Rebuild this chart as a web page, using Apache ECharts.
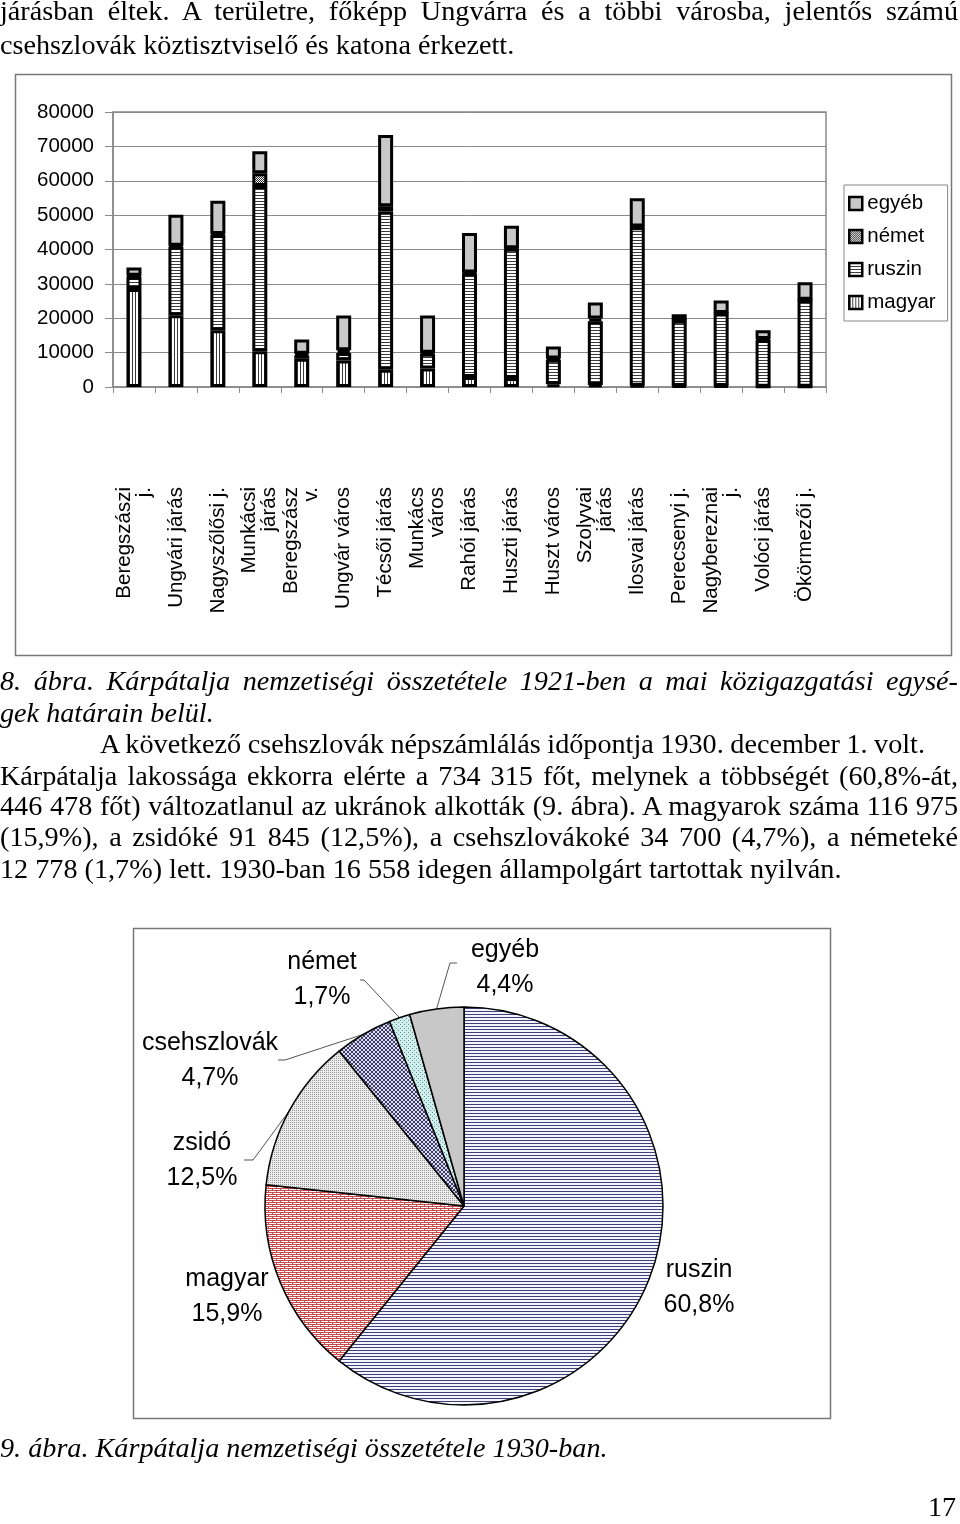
<!DOCTYPE html>
<html><head><meta charset="utf-8">
<script src="https://cdn.jsdelivr.net/npm/echarts@6/dist/echarts.min.js"></script>
<style>
html,body{margin:0;padding:0;background:#fff;}
#page{position:relative;width:960px;height:1524px;overflow:hidden;background:#fff;}
#chart{position:absolute;left:0;top:0;width:960px;height:1524px;}
.t{position:absolute;font-family:'Liberation Serif','Times New Roman',serif;font-size:28.2px;line-height:32px;white-space:nowrap;color:#000;z-index:2;}
.i{font-style:italic;}
</style></head><body>
<div id="page"><div id="chart"></div></div>
<script>
// ---- Figure 8 (1921) data ----
const categories = ['Beregszászi\nj.', 'Ungvári járás', 'Nagyszőlősi j.', 'Munkácsi\njárás', 'Beregszász\nv.', 'Ungvár város', 'Técsői járás', 'Munkács\nváros', 'Rahói járás', 'Huszti járás', 'Huszt város', 'Szolyvai\njárás', 'Ilosvai járás', 'Perecsenyi j.', 'Nagybereznai\nj.', 'Volóci járás', 'Ökörmezői j.'];
const magyar = [28500, 20900, 16500, 10400, 8200, 7700, 5000, 5400, 2900, 2600, 800, 600, 400, 300, 300, 100, 100];
const ruszin = [3600, 19900, 27700, 48100, 1000, 2200, 46000, 4300, 30100, 37600, 7100, 18500, 46100, 19000, 21100, 13600, 25200];
const nemet  = [300, 300, 300, 3700, 500, 800, 1600, 300, 300, 200, 400, 800, 200, 100, 100, 300, 100];
const egyeb  = [2400, 9000, 9700, 6400, 4100, 10100, 20700, 10800, 11500, 6500, 3500, 4700, 8200, 1800, 3700, 2500, 5100];
const yMin = 0, yMax = 80000, yStep = 10000;
const legendOrder = ['egyéb', 'német', 'ruszin', 'magyar'];

// ---- Figure 9 (1930) data ----
const pieNames  = ['ruszin', 'magyar', 'zsidó', 'csehszlovák', 'német', 'egyéb'];
const pieValues = [60.8, 15.9, 12.5, 4.7, 1.7, 4.4];

// ---- page text ----
const textLines = [
  {t:'járásban éltek. A területre, főképp Ungvárra és a többi városba, jelentős számú', x:0, w:958, y:12},
  {t:'csehszlovák köztisztviselő és katona érkezett.', x:0, y:46},
  {t:'8. ábra. Kárpátalja nemzetiségi összetétele 1921-ben a mai közigazgatási egysé-', x:0, w:958, y:682, i:true},
  {t:'gek határain belül.', x:0, y:714, i:true},
  {t:'A következő csehszlovák népszámlálás időpontja 1930. december 1. volt.', x:100, w:825, y:745},
  {t:'Kárpátalja lakossága ekkorra elérte a 734 315 főt, melynek a többségét (60,8%-át,', x:0, w:958, y:777},
  {t:'446 478 főt) változatlanul az ukránok alkották (9. ábra). A magyarok száma 116 975', x:0, w:958, y:807},
  {t:'(15,9%), a zsidóké 91 845 (12,5%), a csehszlovákoké 34 700 (4,7%), a németeké', x:0, w:958, y:838},
  {t:'12 778 (1,7%) lett. 1930-ban 16 558 idegen állampolgárt tartottak nyilván.', x:0, y:870},
  {t:'9. ábra. Kárpátalja nemzetiségi összetétele 1930-ban.', x:0, y:1449, i:true},
  {t:'17', x:928, y:1508}
];

const page = document.getElementById('page');
textLines.forEach(L => {
  const d = document.createElement('div');
  d.className = 't' + (L.i ? ' i' : '');
  d.textContent = L.t;
  d.style.left = L.x + 'px';
  d.style.top = (L.y - 17) + 'px';
  page.appendChild(d);
  if (L.w) {
    const nat = d.getBoundingClientRect().width;
    const sp = (L.t.match(/ /g) || []).length;
    if (sp) d.style.wordSpacing = ((L.w - nat) / sp) + 'px';
  }
});

// ---- patterns ----
function pat(w, h, bg, fg, pts) {
  const c = document.createElement('canvas');
  c.width = w; c.height = h;
  const g = c.getContext('2d');
  g.fillStyle = bg; g.fillRect(0, 0, w, h);
  g.fillStyle = fg;
  pts.forEach(p => g.fillRect(p[0], p[1], p[2] || 1, p[3] || 1));
  return {image: c, repeat: 'repeat'};
}
const barPat = {
  magyar: pat(3, 3, '#ffffff', '#3a3a3a', [[0,0,1,3]]),
  ruszin: pat(3, 3, '#ffffff', '#3a3a3a', [[0,0,3,1]]),
  nemet:  pat(4, 4, '#ffffff', '#2a2a2a', [[0,0],[1,1],[2,2],[3,3],[2,0],[3,1],[0,2],[1,3]]),
  egyeb:  '#c8c8c8'
};
const piePat = [
  pat(3, 3, '#f4f4fb', '#404080', [[0,0,3,1]]),
  pat(8, 4, '#ffffff', '#c84a4a', [[0,0,8,1],[0,1,1,1],[0,2,8,1],[4,3,1,1]]),
  pat(2, 2, '#ececec', '#9a9a9a', [[0,0]]),
  pat(4, 4, '#dcdce8', '#3c3c70', [[0,0],[1,1],[2,2],[3,3],[3,0],[2,1],[1,2],[0,3]]),
  pat(4, 4, '#d2eeec', '#5a9c9a', [[0,0],[2,2]]),
  '#c8c8c8'
];

// label placement for the pie (layout, not data)
const pieLabelPos = {'ruszin':[699,1288], 'magyar':[227,1297], 'zsidó':[202,1161], 'csehszlovák':[210,1061], 'német':[322,980], 'egyéb':[505,968]};
const pieLeader = {'egyéb':[[450,963],[457,963]], 'német':[[364,980],[360,980]], 'csehszlovák':[[285,1060],[278,1060]], 'zsidó':[[253,1160],[244,1160]]};

const FONT = "'Liberation Sans', Arial, sans-serif";
function barSeries(name, data, color) {
  return {
    name: name, type: 'bar', stack: 'total', data: data, barWidth: 15,
    itemStyle: {color: color, borderColor: '#000', borderWidth: 3},
    emphasis: {disabled: true}
  };
}

const chart = echarts.init(document.getElementById('chart'), null, {renderer: 'canvas'});
chart.setOption({
  animation: false,
  backgroundColor: '#fff',
  textStyle: {fontFamily: FONT},
  graphic: [
    {type:'rect', silent:true, z:-10, shape:{x:15.5, y:74.5, width:936, height:581}, style:{fill:null, stroke:'#777', lineWidth:1.5}},
    {type:'rect', silent:true, z:-10, shape:{x:133.5, y:928.5, width:697, height:490}, style:{fill:null, stroke:'#777', lineWidth:1.5}}
  ],
  grid: {left:113, top:112, width:713, height:275, show:true, borderColor:'#8a8a8a', borderWidth:1.5, backgroundColor:'transparent'},
  legend: {
    data: legendOrder, orient: 'vertical', left: 844, top: 185, icon: 'rect',
    padding: [8, 12, 8, 4], itemWidth: 13, itemHeight: 13, itemGap: 12,
    borderColor: '#888', borderWidth: 1, selectedMode: false,
    itemStyle: {borderColor: '#000', borderWidth: 2.5},
    textStyle: {fontSize: 20.5, lineHeight: 20, color: '#000', fontFamily: FONT}
  },
  xAxis: {
    type: 'category', data: categories,
    axisLine: {lineStyle: {color: '#8a8a8a', width: 1.5}},
    axisTick: {show: true, length: 6, lineStyle: {color: '#8a8a8a'}},
    axisLabel: {rotate: 90, interval: 0, margin: 100, fontSize: 20.5, lineHeight: 20, color: '#000', fontFamily: FONT}
  },
  yAxis: {
    type: 'value', min: yMin, max: yMax, interval: yStep,
    axisLine: {show: true, lineStyle: {color: '#8a8a8a', width: 1.5}},
    axisTick: {show: true, length: 8, lineStyle: {color: '#8a8a8a'}},
    splitLine: {lineStyle: {color: '#8a8a8a', width: 1}},
    axisLabel: {margin: 19, fontSize: 20.5, color: '#000', fontFamily: FONT, formatter: v => String(v)}
  },
  series: [
    barSeries('magyar', magyar, barPat.magyar),
    barSeries('ruszin', ruszin, barPat.ruszin),
    barSeries('német', nemet, barPat.nemet),
    barSeries('egyéb', egyeb, barPat.egyeb),
    {
      type: 'pie', center: [464, 1206], radius: 199, startAngle: 90, clockwise: true,
      avoidLabelOverlap: false, legendHoverLink: false, emphasis: {disabled: true},
      itemStyle: {borderColor: '#000', borderWidth: 1.5},
      label: {
        show: true, position: 'outside', color: '#000', fontSize: 25, lineHeight: 35, fontFamily: FONT, align: 'center',
        formatter: p => p.name + '\n' + p.value.toFixed(1).replace('.', ',') + '%'
      },
      labelLine: {show: true, length: 10, length2: 10, lineStyle: {color: '#555', width: 1}},
      labelLayout: function (p) {
        const n = pieNames[p.dataIndex];
        const pos = pieLabelPos[n];
        const r = {x: pos[0], y: pos[1], align: 'center', verticalAlign: 'middle'};
        if (pieLeader[n] && p.labelLinePoints) {
          r.labelLinePoints = [p.labelLinePoints[0]].concat(pieLeader[n]);
        }
        return r;
      },
      data: pieNames.map((n, i) => ({
        name: n, value: pieValues[i],
        itemStyle: {color: piePat[i]},
        labelLine: {show: !!pieLeader[n]}
      }))
    }
  ]
});
</script>
</body></html>
